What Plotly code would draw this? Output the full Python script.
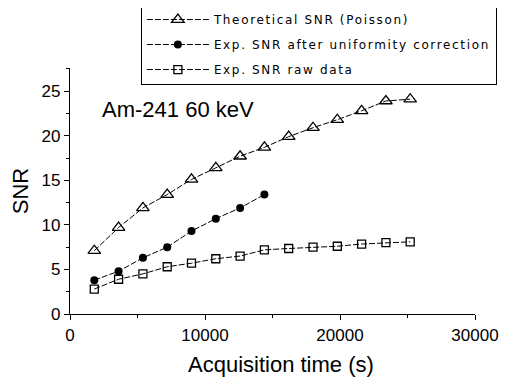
import plotly.graph_objects as go

time_s = [1800, 3600, 5400, 7200, 9000, 10800, 12600, 14400, 16200, 18000, 19800, 21600, 23400, 25200]
snr_theory = [7.1, 9.7, 11.9, 13.4, 15.1, 16.4, 17.7, 18.7, 19.9, 20.9, 21.8, 22.8, 23.9, 24.1]
time_corr = [1800, 3600, 5400, 7200, 9000, 10800, 12600, 14400]
snr_corr = [3.8, 4.8, 6.3, 7.5, 9.3, 10.7, 11.9, 13.4]
snr_raw = [2.8, 3.9, 4.5, 5.3, 5.7, 6.2, 6.5, 7.2, 7.35, 7.5, 7.6, 7.85, 8.0, 8.1]

names = ["Theoretical SNR (Poisson)", "Exp. SNR after uniformity correction", "Exp. SNR raw data"]
x_ticks = [0, 10000, 20000, 30000]
y_ticks = [0, 5, 10, 15, 20, 25]

def spaced(t):
    return '<span style="letter-spacing:1.65px">' + t + '</span>'

fig = go.Figure()
line = dict(color="black", width=1, dash="6px,2px")
fig.add_trace(go.Scatter(x=time_s, y=snr_theory, mode="lines+markers", name=spaced(names[0]),
                         legendgroup="a", line=line,
                         marker=dict(symbol="triangle-up-open", size=11, color="black", line=dict(width=1.3))))
fig.add_trace(go.Scatter(x=time_corr, y=snr_corr, mode="lines+markers", name=spaced(names[1]),
                         legendgroup="b", line=line,
                         marker=dict(symbol="circle", size=8, color="black")))
fig.add_trace(go.Scatter(x=time_s, y=snr_raw, mode="lines+markers", name=spaced(names[2]),
                         legendgroup="c", line=line,
                         marker=dict(symbol="square-open", size=8, color="black", line=dict(width=1.3))))

fig.add_annotation(x=8000, y=22.9, text="Am-241 60 keV", showarrow=False,
                   font=dict(family="Liberation Sans, Arial", size=22, color="black"))

axis_font = dict(family="Liberation Sans, Arial", size=17, color="black")
title_font = dict(family="Liberation Sans, Arial", size=22, color="black")

# x-axis title placed as paper annotation (slightly right of centre as in the original)
fig.add_annotation(x=0.5, y=0, xref="paper", yref="paper", xshift=8, yshift=-50,
                   text="Acquisition time (s)", showarrow=False, yanchor="middle",
                   font=title_font)

fig.update_xaxes(range=[0, 30000], tickvals=x_ticks, ticktext=[str(v) for v in x_ticks],
                 showgrid=False, zeroline=False, showline=True, linecolor="black", linewidth=1.3,
                 ticks="outside", ticklen=5, tickcolor="black", tickfont=axis_font,
                 minor=dict(tickvals=[5000, 15000, 25000], ticks="outside", ticklen=3, tickcolor="black"))
fig.update_yaxes(range=[0, 27.6], tickvals=y_ticks, ticktext=[str(v) for v in y_ticks],
                 showgrid=False, zeroline=False, showline=True, linecolor="black", linewidth=1.3,
                 ticks="outside", ticklen=5, tickcolor="black", tickfont=axis_font,
                 minor=dict(tickvals=[2.5, 7.5, 12.5, 17.5, 22.5, 27.5], ticks="outside", ticklen=3, tickcolor="black"),
                 title=dict(text="SNR", font=title_font, standoff=20))

fig.update_layout(
    width=510, height=379, margin=dict(l=62, r=43, t=60, b=73, autoexpand=False),
    paper_bgcolor="white", plot_bgcolor="white",
    showlegend=True,
    legend=dict(x=0.175, xanchor="left", y=1.26, yanchor="top",
                bordercolor="black", borderwidth=1, bgcolor="white",
                font=dict(family="DejaVu Sans", size=12, color="black"),
                traceorder="grouped", tracegroupgap=6, itemwidth=62,
                entrywidth=310, entrywidthmode="pixels"),
)

fig.write_html("out.html")
